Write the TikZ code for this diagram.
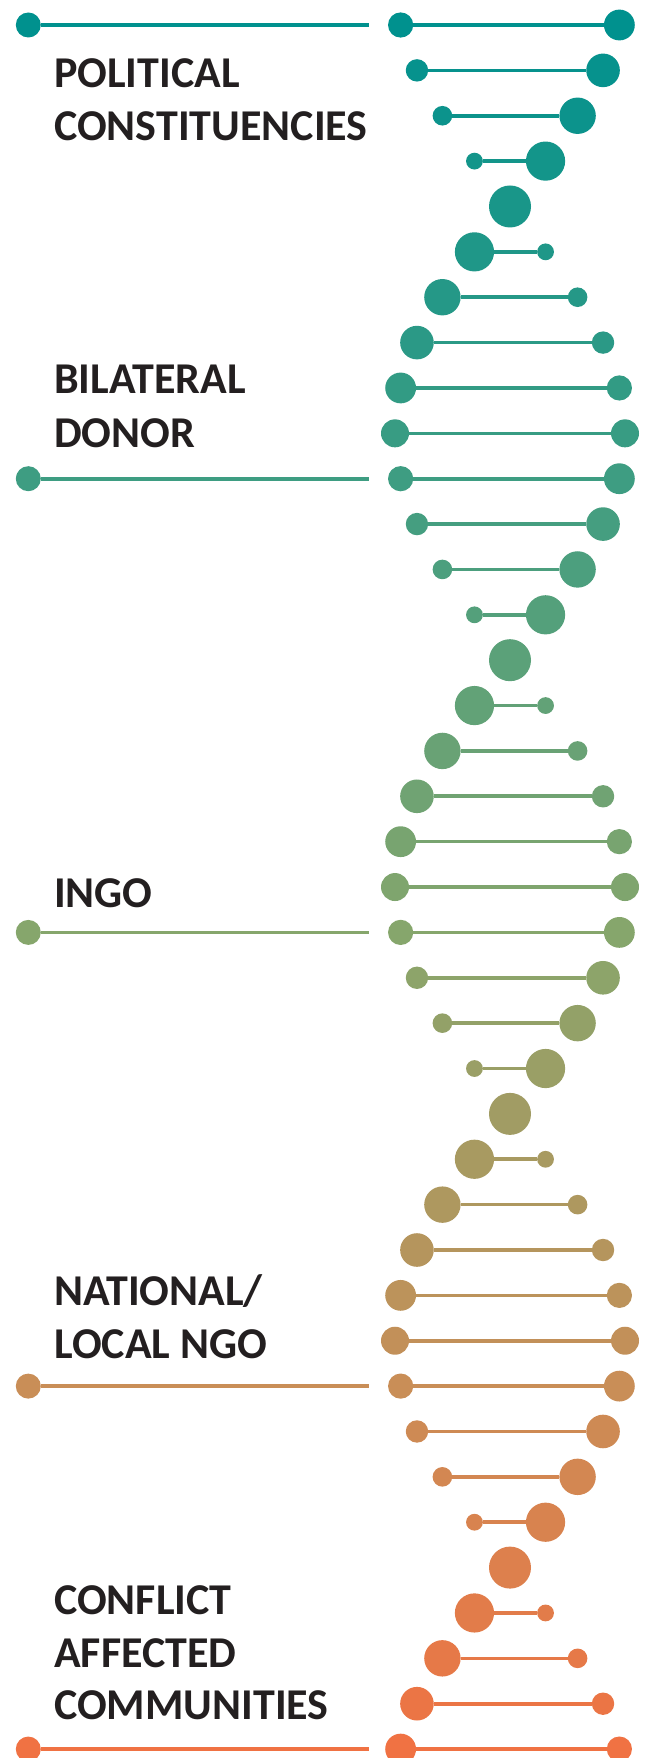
\documentclass[tikz,border=0pt]{standalone}
\usepackage{fontspec}
\setmainfont{Carlito}
\definecolor{c0}{RGB}{0,145,142}
\definecolor{c1}{RGB}{62,157,130}
\definecolor{c2}{RGB}{134,166,108}
\definecolor{c3}{RGB}{201,142,87}
\definecolor{c4}{RGB}{240,114,67}
\definecolor{txt}{RGB}{35,31,32}
\tikzset{
  dot/.style={circle, inner sep=0pt, outer sep=0pt, draw=none},
  rung/.style={line width=3.6pt},
  label/.style={anchor=base west, inner sep=0pt, text=txt, font=\fontsize{44}{52}\selectfont\bfseries}
}
\begin{document}
\begin{tikzpicture}[x=1pt,y=-1pt]
\useasboundingbox (0,0) rectangle (646,1758);
\foreach \n in {0,...,38}{
  \pgfmathtruncatemacro\seg{min(floor(\n/10),3)}
  \pgfmathsetmacro\len{\seg==3 ? 8 : 10}
  \pgfmathtruncatemacro\pc{round(100*(\n-10*\seg)/\len)}
  \pgfmathtruncatemacro\nxt{\seg+1}
  \colorlet{rowc}{c\nxt!\pc!c\seg}
  \pgfmathsetmacro\yy{25+\n*45.37}
  \pgfmathsetmacro\ss{115*sin(18*(4-\n))}
  \pgfmathsetmacro\xa{510-\ss}
  \pgfmathsetmacro\xb{510+\ss}
  \pgfmathtruncatemacro\mm{mod(\n+1,20)}
  \pgfmathsetmacro\TT{\mm<=10 ? 5-abs(\mm-5) : -(5-abs(\mm-15))}
  \pgfmathsetmacro\da{2*(14-1.4*\TT)}
  \pgfmathsetmacro\db{2*(14+1.4*\TT)}
  \pgfmathtruncatemacro\noline{abs(\ss)<1 ? 1 : 0}
  \node[dot, fill=rowc, minimum size=\da pt] (a\n) at (\xa,\yy) {};
  \node[dot, fill=rowc, minimum size=\db pt] (b\n) at (\xb,\yy) {};
  \ifnum\noline=0
    \draw[rung, rowc] (a\n) -- (b\n);
  \fi
  \pgfmathtruncatemacro\isleft{(\n==0)||(\n==10)||(\n==20)||(\n==30)||(\n==38)}
  \ifnum\isleft=1
    \node[dot, fill=rowc, minimum size=25pt] (l\n) at (28.3,\yy) {};
    \coordinate (e\n) at (369,\yy);
    \draw[rung, rowc] (l\n) -- (e\n);
  \fi
}
\node[label] (t1) at (54,88) {POLITICAL};
\node[label] (t2) at (54,140.5) {CONSTITUENCIES};
\node[label] (t3) at (54,393.5) {BILATERAL};
\node[label] (t4) at (54,447) {DONOR};
\node[label] (t5) at (54,907.5) {INGO};
\node[label] (t6) at (54,1305) {NATIONAL/};
\node[label] (t7) at (54,1358) {LOCAL NGO};
\node[label] (t8) at (54,1614) {CONFLICT};
\node[label] (t9) at (54,1667) {AFFECTED};
\node[label] (t10) at (54,1719.5) {COMMUNITIES};
\end{tikzpicture}
\end{document}
